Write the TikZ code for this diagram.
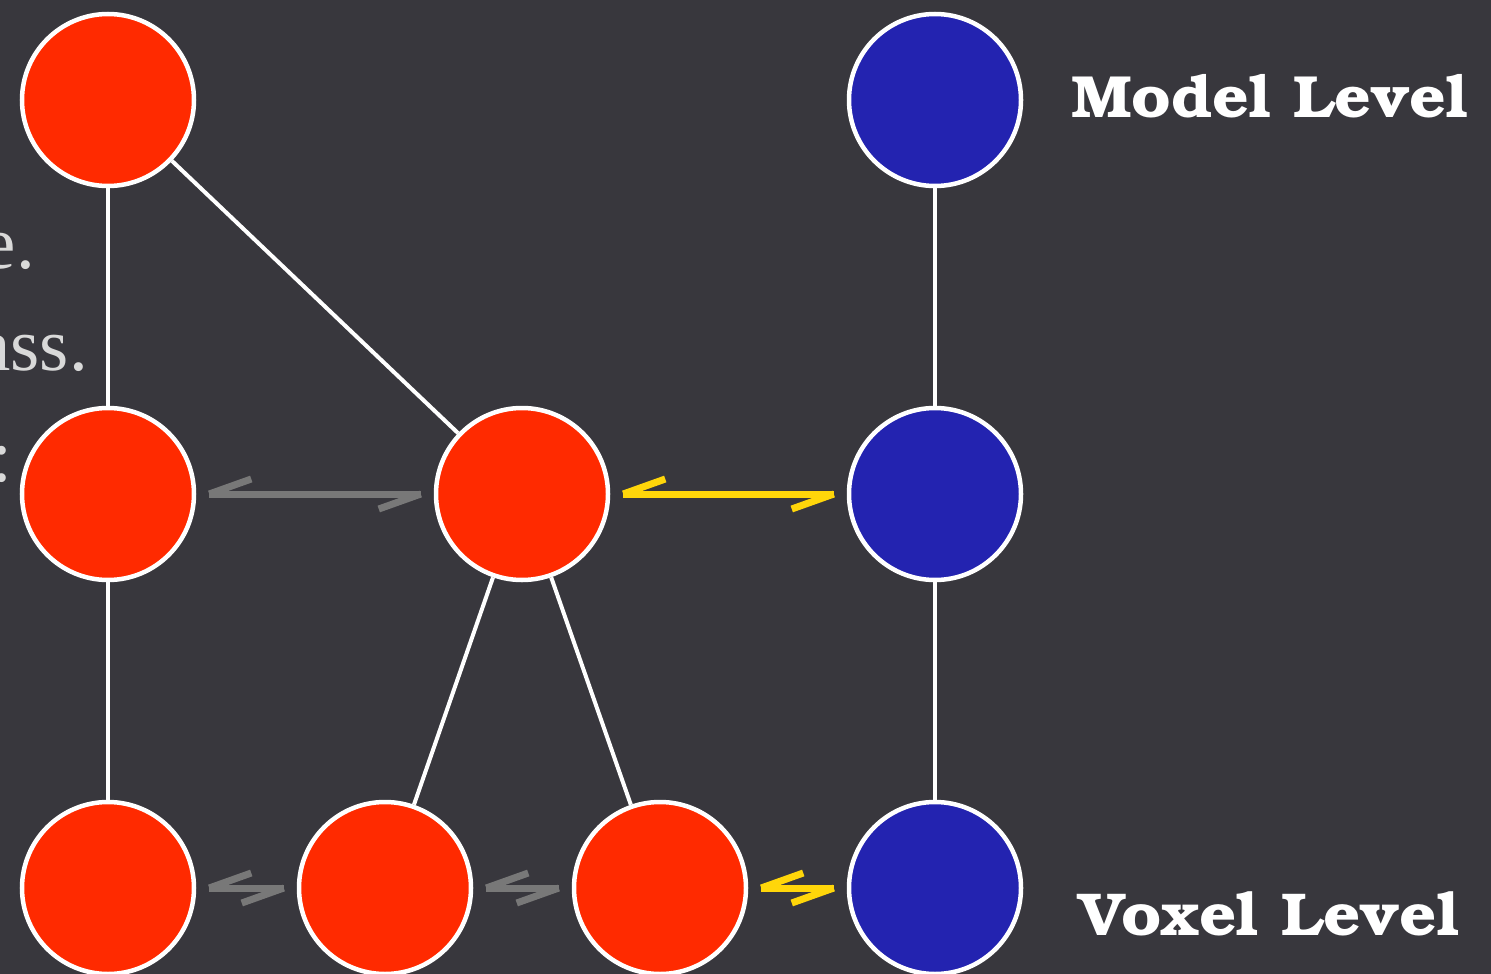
\documentclass[tikz,border=0pt]{standalone}
\usepackage{fontspec}
\newfontfamily\bonum{TeX Gyre Bonum}[FakeStretch=1.08]
\newfontfamily\lserif{Liberation Serif}
\usetikzlibrary{calc}
\definecolor{bgc}{HTML}{38373D}
\definecolor{redc}{HTML}{FF2A00}
\definecolor{bluec}{HTML}{2323B0}
\definecolor{grayc}{HTML}{787878}
\definecolor{yelc}{HTML}{FFD60A}
\definecolor{txtc}{HTML}{D9D9D9}
\tikzset{
  ball/.style={circle, draw=white, line width=4.5pt, minimum size=172pt, inner sep=0pt},
  rball/.style={ball, fill=redc},
  bball/.style={ball, fill=bluec},
  link/.style={draw=white, line width=4pt},
  harpg/.style={draw=grayc, line width=7pt, line cap=butt},
  harpy/.style={draw=yelc, line width=7pt, line cap=butt},
  lbl/.style={text=white, font=\bonum\bfseries\fontsize{59.5}{70}\selectfont, inner sep=0pt},
  side/.style={text=txtc, font=\lserif\fontsize{75}{90}\selectfont, inner sep=0pt, anchor=base east}
}
\newcommand\harpoon[3]{%
  \draw[#3] ($(#1.east)+(13,0)$) coordinate (hs) -- ($(#2.west)+(-13,0)$) coordinate (he);
  \draw[#3] (hs) -- ++(42,-15);
  \draw[#3] (he) -- ++(-42,15);
}
\begin{document}
\begin{tikzpicture}[x=1pt,y=-1pt]
\useasboundingbox (0,0) rectangle (1491,974);
\clip (0,0) rectangle (1491,974);
\fill[bgc] (0,0) rectangle (1491,974);
% side text (cut off)
\node[side] (t1) at (35,268) {e.};
\node[side] (t2) at (88,370) {ass.};
\node[side] (t3) at (13,481) {:};
% nodes
\node[rball] (a) at (108,100) {};
\node[bball] (m) at (935,100) {};
\node[rball] (b) at (108,494) {};
\node[rball] (c) at (522,494) {};
\node[bball] (n) at (935,494) {};
\node[rball] (d) at (108,888) {};
\node[rball] (e) at (385,888) {};
\node[rball] (f) at (660,888) {};
\node[bball] (o) at (935,888) {};
% links
\draw[link] (a) -- (b);
\draw[link] (a) -- (c);
\draw[link] (b) -- (d);
\draw[link] (c) -- (e);
\draw[link] (c) -- (f);
\draw[link] (m) -- (n);
\draw[link] (n) -- (o);
% harpoons
\harpoon{b}{c}{harpg}
\harpoon{c}{n}{harpy}
\harpoon{d}{e}{harpg}
\harpoon{e}{f}{harpg}
\harpoon{f}{o}{harpy}
% labels
\node[lbl, anchor=base west] (ml) at (1071,117) {Model Level};
\node[lbl, anchor=base west, font=\bonum\bfseries\fontsize{60.5}{70}\selectfont] (vl) at (1078,935) {Voxel Level};
\end{tikzpicture}
\end{document}
